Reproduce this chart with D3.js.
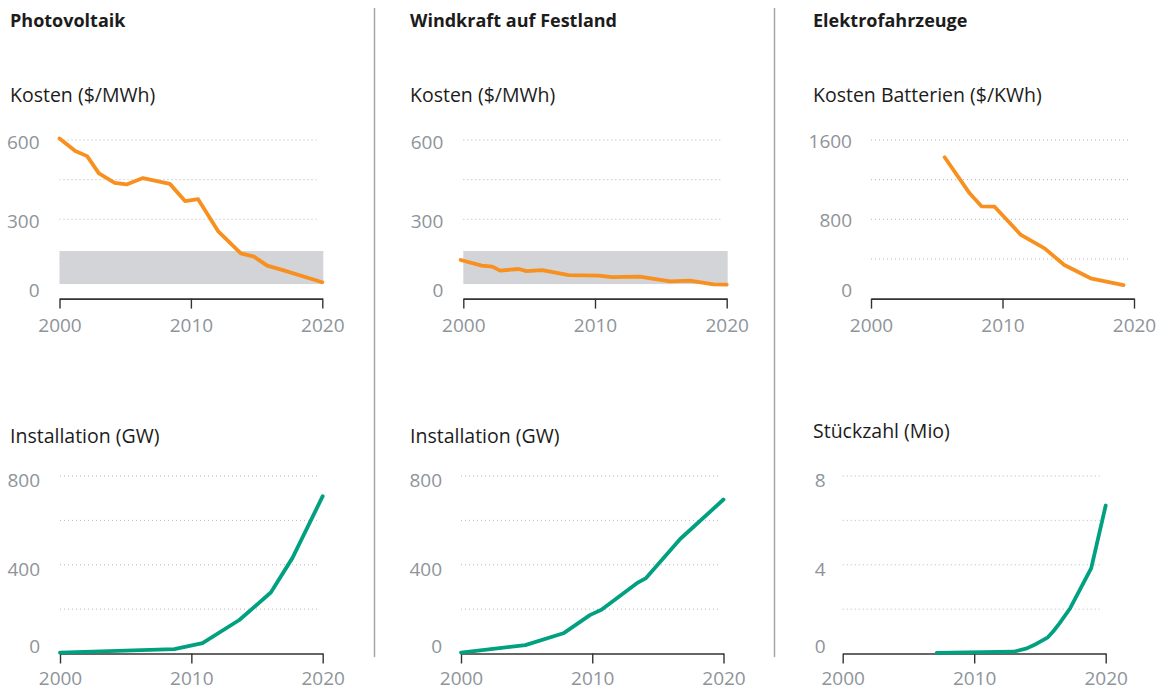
<!DOCTYPE html>
<html>
<head>
<meta charset="utf-8">
<script src="https://cdn.jsdelivr.net/npm/d3@7"></script>
<style>
  body { margin: 0; background: #fff; }
  svg { display: block; font-family: "Open Sans", sans-serif; }
  .title { font-weight: 700; font-size: 18px; fill: #1c1c1c; }
  .sub { font-size: 19.5px; fill: #1c1c1c; }
  .tick text { font-size: 19px; fill: #8e949a; }
</style>
</head>
<body>
<div id="chart"></div>
<script>
// panel headings
var titles = ['Photovoltaik', 'Windkraft auf Festland', 'Elektrofahrzeuge'];
var costLabels = ['Kosten ($/MWh)', 'Kosten ($/MWh)', 'Kosten Batterien ($/KWh)'];
var installLabels = ['Installation (GW)', 'Installation (GW)', 'Stückzahl (Mio)'];
var xTicks = [2000, 2010, 2020];

// cost series [year, value]
var pvCost = [[2000, 606], [2001.2, 558], [2002.1, 539], [2003, 474], [2004.2, 438],
  [2005.1, 432], [2006.35, 456], [2008.4, 434], [2009.55, 369], [2010.55, 376],
  [2012.1, 253], [2013.8, 171], [2014.8, 159], [2015.8, 125], [2017, 108], [2020, 62]];
var windCost = [[1999.8, 146], [2001.4, 125], [2002.2, 121], [2002.8, 106], [2004.2, 112],
  [2004.8, 104], [2006, 108], [2008, 89], [2010.3, 87], [2011.3, 81], [2013.4, 83],
  [2015.7, 65], [2017.2, 68], [2019, 54], [2020, 53]];
var batteryCost = [[2005.6, 1426], [2007.5, 1062], [2008.4, 931], [2009.4, 927],
  [2011.4, 642], [2012.3, 574], [2013.2, 507], [2014.7, 339], [2016.7, 205], [2019.2, 137]];
var fossilBand = [55, 180]; // grey range in the cost charts

// installation series [year, value]
var pvInstall = [[2000, 4], [2008.7, 20], [2010.85, 47], [2013.65, 151], [2016.05, 275],
  [2017.7, 431], [2020, 709]];
var windInstall = [[2000, 4], [2004.9, 38], [2007.8, 91], [2009.85, 174], [2010.7, 197],
  [2013.4, 317], [2014.1, 340], [2016.7, 516], [2020, 694]];
var evStock = [[2007.15, 0.03], [2013, 0.08], [2014, 0.23], [2014.55, 0.38], [2015.6, 0.73],
  [2016, 0.99], [2016.5, 1.37], [2017.3, 2.04], [2018.9, 3.85], [2020, 6.67]];

var orange = '#f7901e', green = '#00a080';

var svg = d3.select('#chart').append('svg')
  .attr('width', 1168)
  .attr('height', 691);

// separators
[374.5, 774.5].forEach(function(x) {
  svg.append('line')
    .attr('x1', x).attr('x2', x).attr('y1', 8).attr('y2', 657)
    .attr('stroke', '#a3a7ab').attr('stroke-width', 1.5);
});

var textX = [10, 410, 813];
titles.forEach(function(t, i) {
  svg.append('text').attr('class', 'title').attr('x', textX[i]).attr('y', 27).text(t);
  svg.append('text').attr('class', 'sub').attr('x', textX[i]).attr('y', 102).text(costLabels[i]);
  svg.append('text').attr('class', 'sub').attr('x', textX[i])
    .attr('y', i == 2 ? 438 : 443).text(installLabels[i]);
});

var panels = [
  {data: pvCost, band: fossilBand, color: orange, xr: [59.5, 322.3], yr: [298.6, 140], max: 600, gap: 20, off: 2, row: 0},
  {data: windCost, band: fossilBand, color: orange, xr: [463.3, 726.7], yr: [298.6, 140], max: 600, gap: 20, off: 2, row: 0},
  {data: batteryCost, color: orange, xr: [871, 1134], yr: [298.6, 140], max: 1600, gap: 19, off: 1, row: 0},
  {data: pvInstall, color: green, xr: [60, 322.7], yr: [653.5, 476], max: 800, gap: 20, off: 4, row: 1},
  {data: windInstall, color: green, xr: [461, 723.5], yr: [653.5, 476], max: 800, gap: 19, off: 4, row: 1},
  {data: evStock, color: green, xr: [842.7, 1105.7], yr: [653.5, 476], max: 8, gap: 17, off: 4, row: 1}
];

panels.forEach(drawPanel);

function drawPanel(p) {
  var x = d3.scaleLinear().domain([2000, 2020]).range(p.xr);
  var y = d3.scaleLinear().domain([0, p.max]).range(p.yr);
  var g = svg.append('g');

  // dotted grid at half steps
  var grid = d3.range(1, 5).map(function(k) { return p.max * k / 4; });
  g.selectAll('.grid').data(grid).enter().append('line')
    .attr('x1', x(2000)).attr('x2', x(2020) - 4)
    .attr('y1', function(d) { return y(d); })
    .attr('y2', function(d) { return y(d); })
    .attr('stroke', '#b4b8bc').attr('stroke-width', 1)
    .attr('stroke-dasharray', '1,3');

  if (p.band) {
    g.append('rect')
      .attr('x', x(2000)).attr('width', x(2020) - x(2000) + 1)
      .attr('y', y(p.band[1])).attr('height', y(p.band[0]) - y(p.band[1]))
      .attr('fill', '#d3d4d7');
  }

  // y labels: 0, half, max
  var yax = g.append('g').attr('class', 'tick');
  yax.selectAll('text').data([0, p.max / 2, p.max]).enter().append('text')
    .attr('x', p.xr[0] - p.gap)
    .attr('y', function(d) {
      var c = d === 0 ? y(0) - (p.row ? 7 : 8.5) : y(d) + p.off;
      return c + 6.8;
    })
    .attr('text-anchor', 'end')
    .text(function(d) { return d; });

  var line = d3.line()
    .x(function(d) { return x(d[0]); })
    .y(function(d) { return y(d[1]); });

  // bottom row sits close to the page edge, so its labels get less padding
  var xAxis = d3.axisBottom(x).tickValues(xTicks).tickSize(10).tickSizeOuter(0)
    .tickPadding(p.row ? 8 : 10).tickFormat(d3.format('d'));
  var ax = g.append('g').attr('transform', 'translate(0,' + y(0) + ')').call(xAxis);
  ax.select('.domain').attr('stroke', '#333').attr('stroke-width', 1.6);
  ax.selectAll('.tick line').attr('stroke', '#333').attr('stroke-width', 1.4);
  ax.selectAll('.tick text').attr('fill', '#8e949a').attr('font-size', 19)
    .attr('font-family', '"Open Sans", sans-serif');

  g.append('path')
    .datum(p.data)
    .attr('d', line)
    .attr('fill', 'none')
    .attr('stroke', p.color)
    .attr('stroke-width', 3.8)
    .attr('stroke-linejoin', 'round')
    .attr('stroke-linecap', 'round');
}
</script>
</body>
</html>
